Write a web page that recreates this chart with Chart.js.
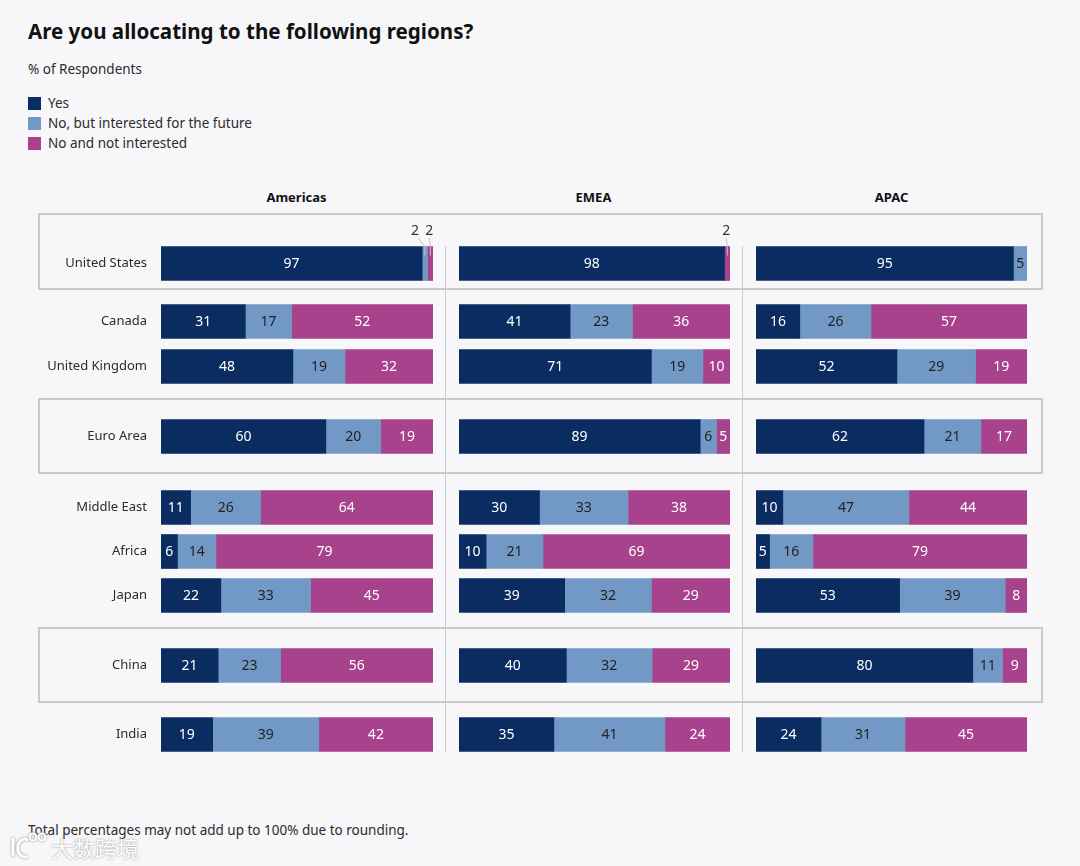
<!DOCTYPE html>
<html>
<head>
<meta charset="utf-8">
<script src="https://cdn.jsdelivr.net/npm/chart.js@4"></script>
<style>
  html, body { margin: 0; padding: 0; background: #f7f7fa; }
  body { width: 1080px; height: 866px; position: relative; overflow: hidden; font-family: "Noto Sans", sans-serif; color: #2b2b2b; }
  canvas { position: absolute; }
  .txt { position: absolute; white-space: nowrap; }
  .box { position: absolute; left: 38px; width: 1001px; border: 2px solid #c9cacd; }
  .divider { position: absolute; top: 246px; width: 1px; height: 506px; background: #c9cacd; }
  .head { position: absolute; top: 188px; width: 271px; text-align: center; font-weight: 700; font-size: 13px; color: #111; }
  .swatch { position: absolute; left: 28px; width: 13px; height: 13px; }
</style>
</head>
<body>
<div class="txt" style="left:28px;top:17px;font-size:20.55px;font-weight:700;color:#111">Are you allocating to the following regions?</div>
<div class="txt" style="left:28px;top:60px;font-size:13.5px">% of Respondents</div>
<div id="legend"></div>

<div class="box" style="top:213px;height:73px"></div>
<div class="box" style="top:398px;height:72px"></div>
<div class="box" style="top:627px;height:72px"></div>
<div class="divider" style="left:445px"></div>
<div class="divider" style="left:742px"></div>

<div class="head" style="left:161px">Americas</div>
<div class="head" style="left:458px">EMEA</div>
<div class="head" style="left:756px">APAC</div>

<canvas id="Americas" width="433" height="540" style="left:0;top:220px"></canvas>
<canvas id="EMEA" width="271" height="540" style="left:459px;top:220px"></canvas>
<canvas id="APAC" width="271" height="540" style="left:756px;top:220px"></canvas>

<div class="txt" style="left:28px;top:821px;font-size:13.5px">Total percentages may not add up to 100% due to rounding.</div>

<svg style="position:absolute;left:8px;top:830px;filter:drop-shadow(0 0 1px #888)" width="44" height="30" fill="none" stroke="#fff" stroke-width="3">
  <path d="M5 8 L5 26 M20 10 A7 9 0 1 0 20 26"/><circle cx="25" cy="7" r="3.5" stroke-width="2"/><circle cx="34" cy="7" r="3.5" stroke-width="2"/>
</svg>
<div class="txt" style="left:51px;top:832px;font-size:22px;line-height:30px;font-family:'Noto Sans CJK SC';color:#fff;text-shadow:0 0 2px #888">大数跨境</div>

<script>
// row names, top to bottom
const categories = ["United States", "Canada", "United Kingdom", "Euro Area", "Middle East", "Africa", "Japan", "China", "India"]
const seriesNames = ["Yes", "No, but interested for the future", "No and not interested"]
const seriesColours = ["#0a2c60", "#7298c6", "#a8428c"]

const americasYes = [97, 31, 48, 60, 11, 6, 22, 21, 19]
const americasFuture = [2, 17, 19, 20, 26, 14, 33, 23, 39]
const americasNot = [2, 52, 32, 19, 64, 79, 45, 56, 42]

const emeaYes = [98, 41, 71, 89, 30, 10, 39, 40, 35]
const emeaFuture = [0, 23, 19, 6, 33, 21, 32, 32, 41]
const emeaNot = [2, 36, 10, 5, 38, 69, 29, 29, 24]

const apacYes = [95, 16, 52, 62, 10, 5, 53, 80, 24]
const apacFuture = [5, 26, 29, 21, 47, 16, 39, 11, 31]
const apacNot = [0, 57, 19, 17, 44, 79, 8, 9, 45]

// rows are not evenly spaced, the groups have gaps between them
const rowPos = [0, 58, 103, 173, 244, 288, 332, 402, 471]

// legend
seriesNames.forEach((name, i) => {
  const top = 97 + i * 20
  document.getElementById("legend").insertAdjacentHTML("beforeend",
    `<div class="swatch" style="top:${top}px;background:${seriesColours[i]}"></div>` +
    `<div class="txt" style="left:48px;top:${top - 3}px;font-size:13.5px">${name}</div>`)
})

// writes the numbers on the bars, values too small for the bar go above it on a leader
const valueLabels = {
  id: "valueLabels",
  afterDatasetsDraw(chart) {
    const ctx = chart.ctx
    ctx.save()
    ctx.font = '14px "Noto Sans"'
    ctx.textAlign = "center"
    ctx.textBaseline = "middle"
    chart.data.datasets.forEach((ds, d) => {
      chart.getDatasetMeta(d).data.forEach((bar, i) => {
        const v = ds.values[i]
        if (!v) return
        const cx = (bar.x + bar.base) / 2
        if (v < 3) {
          const top = bar.y - 17
          const lx = cx + ds.calloutShift
          ctx.strokeStyle = "#c4c6cc"
          ctx.lineWidth = 1
          ctx.beginPath()
          ctx.moveTo(lx + (ds.calloutShift < -2 ? 3 : 0), top - 9)
          ctx.lineTo(cx, top)
          ctx.lineTo(cx, top + 9)
          ctx.stroke()
          ctx.fillStyle = "#333"
          ctx.fillText(v, lx, top - 15)
        } else {
          ctx.fillStyle = d === 1 ? "#222" : "#fff"
          ctx.fillText(v, cx, bar.y + 1)
        }
      })
    })
    ctx.restore()
  }
}

function panel(id, seriesList, showNames, shifts) {
  const datasets = seriesList.map((values, s) => ({
    label: seriesNames[s],
    backgroundColor: seriesColours[s],
    barThickness: 34,
    values: values,
    calloutShift: shifts[s],
    // bars always fill the panel, so rounded rows are scaled to their own total
    data: values.map((v, i) => {
      const total = seriesList[0][i] + seriesList[1][i] + seriesList[2][i]
      return {x: v / total * 100, y: rowPos[i]}
    })
  }))
  new Chart(id, {
    type: "bar",
    data: {datasets: datasets},
    plugins: [valueLabels],
    options: {
      indexAxis: "y",
      responsive: false,
      animation: false,
      layout: {padding: 0},
      plugins: {legend: {display: false}, title: {display: false}, tooltip: {enabled: false}},
      scales: {
        x: {stacked: true, display: false, min: 0, max: 100},
        y: {
          type: "linear",
          offset: false,
          stacked: true,
          reverse: true,
          display: showNames,
          min: -43.5,
          max: 496.5,
          grid: {display: false, drawTicks: false},
          border: {display: false},
          afterBuildTicks: s => { s.ticks = rowPos.map(v => ({value: v})) },
          // fixed gutter for the names, and no padding so all panels line up
          afterFit: s => {
            if (!showNames) return
            s.width = 161
            s.paddingTop = 0
            s.paddingBottom = 0
          },
          ticks: {
            autoSkip: false,
            padding: 14,
            color: "#2b2b2b",
            font: {family: "Noto Sans", size: 13},
            callback: v => categories[rowPos.indexOf(v)]
          }
        }
      }
    }
  })
}

panel("Americas", [americasYes, americasFuture, americasNot], true, [0, -10, -1])
panel("EMEA", [emeaYes, emeaFuture, emeaNot], false, [0, 0, -1])
panel("APAC", [apacYes, apacFuture, apacNot], false, [0, 0, 0])
</script>
</body>
</html>
